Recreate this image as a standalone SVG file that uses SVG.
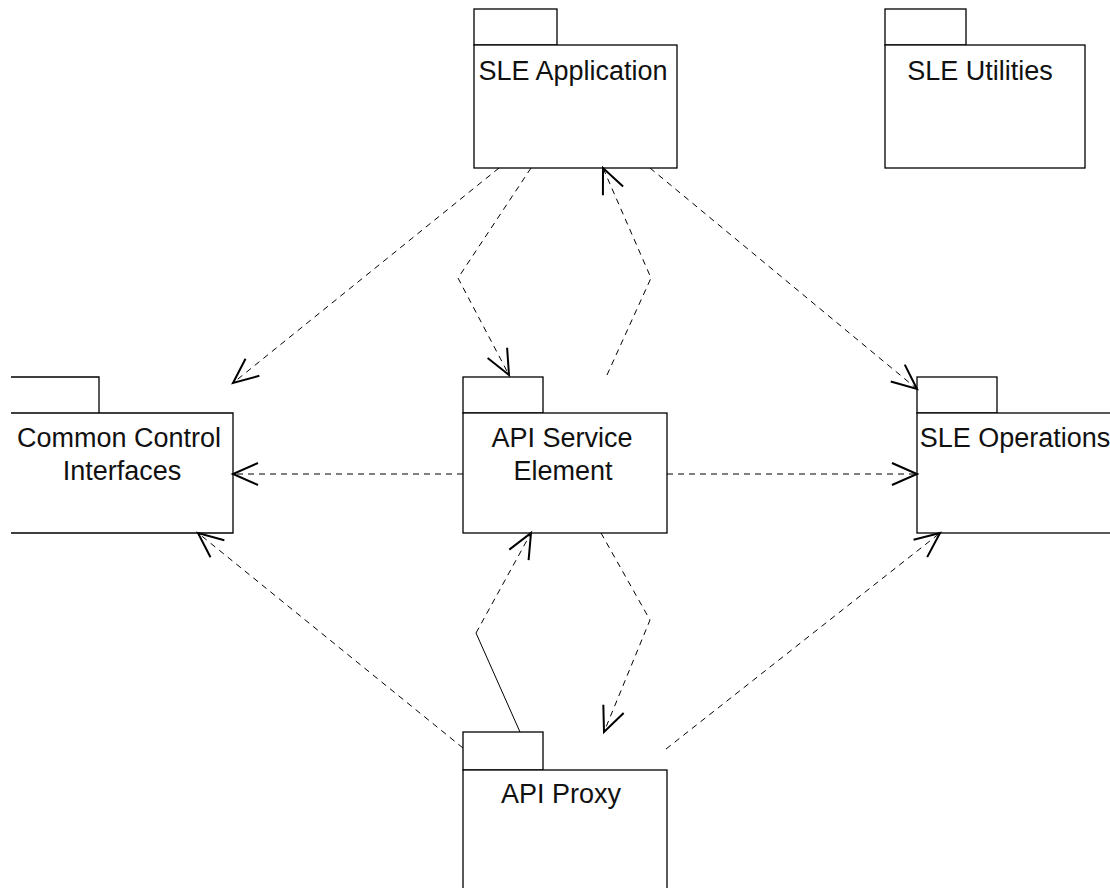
<svg xmlns="http://www.w3.org/2000/svg" width="1110" height="888" viewBox="0 0 1110 888">
<style>
.box{fill:#fff;stroke:#000;stroke-width:1.3}
.lbl{font-family:"Liberation Sans",Arial,sans-serif;font-size:27px;fill:#111;text-anchor:middle}
.dep{fill:none;stroke:#000;stroke-width:1;stroke-dasharray:6,5}
.solid{fill:none;stroke:#000;stroke-width:1}
.head{fill:none;stroke:#000;stroke-width:2;stroke-dasharray:none}
</style>
<defs>
<marker id="open" markerUnits="userSpaceOnUse" viewBox="-28 -14 30 28" markerWidth="30" markerHeight="28" refX="0" refY="0" orient="auto" overflow="visible">
<path class="head" d="M-25,-11 L0,0 L-25,11"/>
</marker>
</defs>
<rect width="1110" height="888" fill="#fff"/>

<g id="sle-application">
<rect class="box" x="474" y="9" width="83" height="36"/>
<rect class="box" x="474" y="45" width="203" height="123"/>
<text class="lbl" x="573" y="80">SLE Application</text>
</g>

<g id="sle-utilities">
<rect class="box" x="885" y="9" width="81" height="36"/>
<rect class="box" x="885" y="45" width="200" height="123"/>
<text class="lbl" x="980" y="80">SLE Utilities</text>
</g>

<g id="common-control-interfaces">
<path class="box" d="M11,377 H99 V413"/>
<path class="box" style="fill:none" d="M11,413 H233 V533 H11"/>
<text class="lbl" x="119" y="447">Common Control</text>
<text class="lbl" x="122" y="480">Interfaces</text>
</g>

<g id="api-service-element">
<rect class="box" x="463" y="377" width="80" height="36"/>
<rect class="box" x="463" y="413" width="204" height="120"/>
<text class="lbl" x="562" y="447">API Service</text>
<text class="lbl" x="563" y="480">Element</text>
</g>

<g id="sle-operations">
<rect class="box" x="917" y="377" width="80" height="36"/>
<rect class="box" x="917" y="413" width="200" height="120"/>
<text class="lbl" x="1015" y="447">SLE Operations</text>
</g>

<g id="api-proxy">
<rect class="box" x="463" y="732" width="80" height="38"/>
<rect class="box" x="463" y="770" width="204" height="130"/>
<text class="lbl" x="561" y="803">API Proxy</text>
</g>

<g id="connectors">
<path class="dep" d="M499,168 L233,383" marker-end="url(#open)"/>
<path class="dep" d="M531,168 L458,278 L509,375" marker-end="url(#open)"/>
<path class="dep" d="M607,375 L651,278 L603,168" marker-end="url(#open)"/>
<path class="dep" d="M650,168 L917,389" marker-end="url(#open)"/>
<path class="dep" d="M463,474 L233,474" marker-end="url(#open)"/>
<path class="dep" d="M667,474 L917,474" marker-end="url(#open)"/>
<path class="dep" d="M463,748 L198,533" marker-end="url(#open)"/>
<path class="solid" d="M520,732 L476,633"/>
<path class="dep" d="M476,633 L531,533" marker-end="url(#open)"/>
<path class="dep" d="M601,533 L650,620 L604,732" marker-end="url(#open)"/>
<path class="dep" d="M666,749 L940,533" marker-end="url(#open)"/>
</g>
</svg>
